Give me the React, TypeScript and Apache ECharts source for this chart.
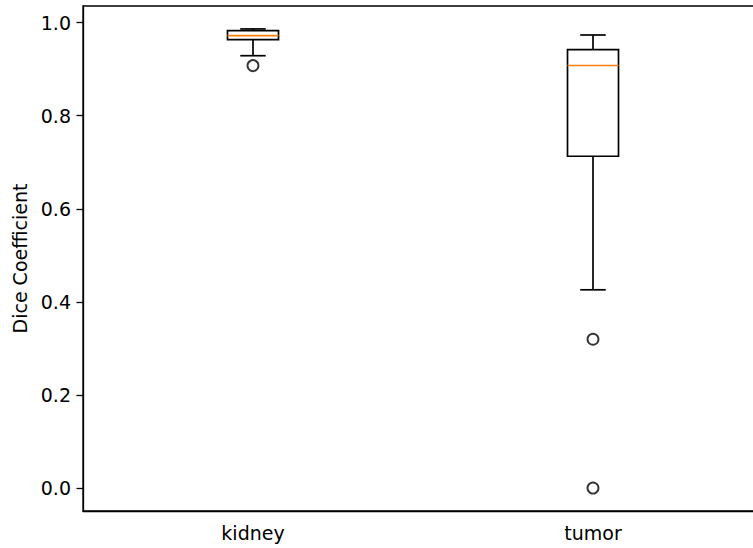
import React, { useEffect, useRef } from "react";
import * as echarts from "echarts";

const categories = ["kidney", "tumor"];
const whiskerLow = [0.929, 0.426];
const q1 = [0.9635, 0.713];
const median = [0.972, 0.908];
const q3 = [0.983, 0.942];
const whiskerHigh = [0.9865, 0.9735];
const outliers: [number, number][] = [
  [0, 0.9077],
  [1, 0.3197],
  [1, 0.0],
];
const yTicks = [0, 0.2, 0.4, 0.6, 0.8, 1.0];

export default function App() {
  const ref = useRef<HTMLDivElement>(null);
  useEffect(() => {
    document.body.style.margin = "0";
    document.body.style.overflow = "hidden";
    const chart = echarts.init(ref.current!, null, { renderer: "svg" });
    const font = "DejaVu Sans";
    const boxData = categories.map((_, i) => [
      i,
      whiskerLow[i],
      q1[i],
      median[i],
      q3[i],
      whiskerHigh[i],
    ]);
    chart.setOption({
      animation: false,
      grid: {
        left: 83,
        right: 0,
        top: 6,
        bottom: 37,
        show: true,
        borderColor: "#000",
        borderWidth: 1.3,
        backgroundColor: "transparent",
      },
      xAxis: {
        type: "category",
        data: categories,
        boundaryGap: true,
        axisLine: { onZero: false, lineStyle: { color: "#000", width: 1.3 } },
        axisTick: {
          alignWithLabel: true,
          length: 6.5,
          lineStyle: { color: "#000", width: 1.3 },
        },
        axisLabel: {
          color: "#000",
          fontSize: 19,
          fontFamily: font,
          margin: 12,
        },
        splitLine: { show: false },
      },
      yAxis: {
        type: "value",
        min: -0.0493,
        max: 1.0358,
        name: "Dice Coefficient",
        nameLocation: "middle",
        nameRotate: 90,
        nameGap: 54,
        nameTextStyle: { color: "#000", fontSize: 19, fontFamily: font },
        axisLine: { show: true, onZero: false, lineStyle: { color: "#000", width: 1.3 } },
        axisTick: {
          show: true,
          length: 6.5,
          customValues: yTicks,
          lineStyle: { color: "#000", width: 1.3 },
        },
        axisLabel: {
          color: "#000",
          fontSize: 19,
          fontFamily: font,
          margin: 12,
          customValues: yTicks,
          formatter: (v: number) => v.toFixed(1),
        },
        splitLine: { show: false },
      },
      series: [
        {
          type: "custom",
          data: boxData,
          encode: { x: 0, y: [1, 2, 3, 4, 5] },
          renderItem: (params: any, api: any) => {
            const x = api.value(0);
            const band = api.size([1, 0])[0];
            const hw = (band * 0.15) / 2;
            const cw = hw / 2;
            const pLow = api.coord([x, api.value(1)]);
            const pQ1 = api.coord([x, api.value(2)]);
            const pMed = api.coord([x, api.value(3)]);
            const pQ3 = api.coord([x, api.value(4)]);
            const pHigh = api.coord([x, api.value(5)]);
            const cx = pQ1[0];
            const stroke = { stroke: "#000", lineWidth: 1.7, fill: "none" };
            return {
              type: "group",
              children: [
                {
                  type: "rect",
                  shape: { x: cx - hw, y: pQ3[1], width: hw * 2, height: pQ1[1] - pQ3[1] },
                  style: stroke,
                },
                {
                  type: "line",
                  shape: { x1: cx, y1: pQ1[1], x2: cx, y2: pLow[1] },
                  style: stroke,
                },
                {
                  type: "line",
                  shape: { x1: cx, y1: pQ3[1], x2: cx, y2: pHigh[1] },
                  style: stroke,
                },
                {
                  type: "line",
                  shape: { x1: cx - cw, y1: pLow[1], x2: cx + cw, y2: pLow[1] },
                  style: stroke,
                },
                {
                  type: "line",
                  shape: { x1: cx - cw, y1: pHigh[1], x2: cx + cw, y2: pHigh[1] },
                  style: stroke,
                },
                {
                  type: "line",
                  shape: { x1: cx - hw, y1: pMed[1], x2: cx + hw, y2: pMed[1] },
                  style: { stroke: "#ff7f0e", lineWidth: 1.7 },
                },
              ],
            };
          },
        },
        {
          type: "scatter",
          data: outliers,
          symbol: "circle",
          symbolSize: 11,
          itemStyle: { color: "none", borderColor: "#000", borderWidth: 1.9 },
        },
      ],
    });
    return () => chart.dispose();
  }, []);
  return (
    <div style={{ width: 753, height: 548, overflow: "hidden" }}>
      <div ref={ref} style={{ width: 763, height: 548 }} />
    </div>
  );
}
